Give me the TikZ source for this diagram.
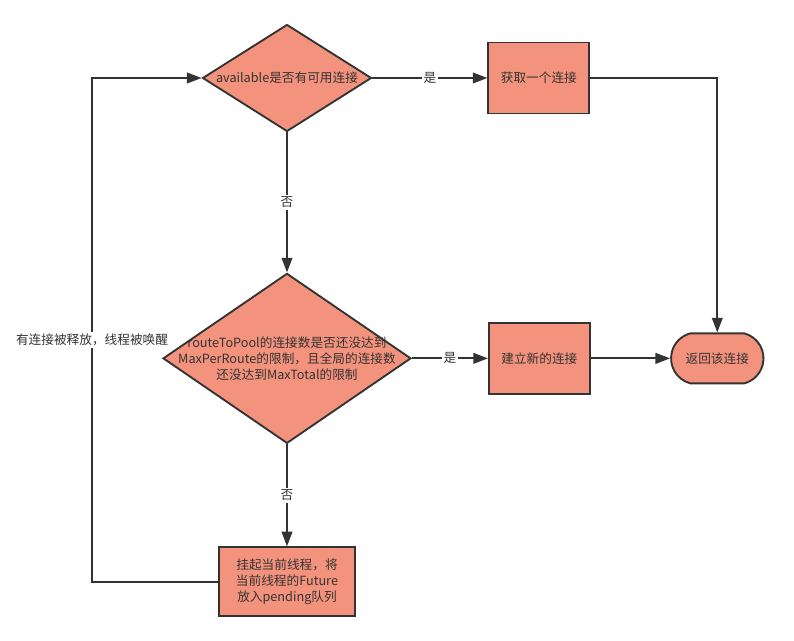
\documentclass[tikz,border=0pt]{standalone}
\usepackage{fontspec}
\setmainfont{Noto Sans CJK SC}
\usetikzlibrary{positioning, shapes.geometric, shapes.misc, arrows.meta}
\definecolor{NodeSalmon}{RGB}{244, 147, 125}
\definecolor{LineGray}{RGB}{51, 51, 51}

\begin{document}
\begin{tikzpicture}[x=0.75pt, y=-0.75pt,
      font=\fontsize{9.5pt}{12pt}\selectfont, text=LineGray,
      decision/.style={diamond, draw=LineGray, fill=NodeSalmon, line width=1.4pt, inner sep=0pt},
      process/.style={rectangle, draw=LineGray, fill=NodeSalmon, line width=1.4pt, minimum width=75.75pt,
      minimum height=53.25pt, align=center},
      terminal/.style={rounded rectangle, draw=LineGray, fill=NodeSalmon, line width=1.4pt, minimum width=76pt,
      minimum height=37.5pt, rounded rectangle arc length=150, align=center},
      tag/.style={fill=white, inner sep=1.5pt},
      flow/.style={draw=LineGray, line width=1.4pt, -{Triangle[length=11pt, width=8pt]}}
    ]
      \useasboundingbox (0,0) rectangle (794,641);

      \node[decision, minimum width=126.75pt, minimum height=80.25pt] (q1) at (287,78) {};
      \node (q1text) at (q1) {available是否有可用连接};
      \node[process, right=86.25pt of q1] (get) {获取一个连接};
      \node[decision, minimum width=186pt, minimum height=127.5pt, below=105pt of q1] (q2) {};
      \node[align=center] (q2text) at (q2) {routeToPool的连接数是否还没达到\\MaxPerRoute的限制，且全局的连接数\\还没达到MaxTotal的限制};
      \node[process, right=57pt of q2] (create) {建立新的连接};
      \node[terminal, right=59.5pt of create] (ret) {返回该连接};
      \node[process, minimum width=102pt, minimum height=51.75pt, below=76.5pt of q2] (hang)
        {挂起当前线程，将\\当前线程的Future\\放入pending队列};
      \coordinate[left=94.5pt of hang.west] (bend);

      \draw[flow] (q1.east) -- node[tag] (yes1) {是} (get.west);
      \draw[flow] (q1.south) -- node[tag] (no1) {否} (q2.north);
      \draw[flow] (q2.east) -- node[tag] (yes2) {是} (create.west);
      \draw[flow] (q2.south) -- node[tag] (no2) {否} (hang.north);
      \draw[flow] (get.east) -| (ret.north);
      \draw[flow] (create.east) -- (ret.west);
      \draw[flow] (hang.west) -- (bend) |- node[tag, pos=0.24] (woken) {有连接被释放，线程被唤醒} (q1.west);
    \end{tikzpicture}
\end{document}
